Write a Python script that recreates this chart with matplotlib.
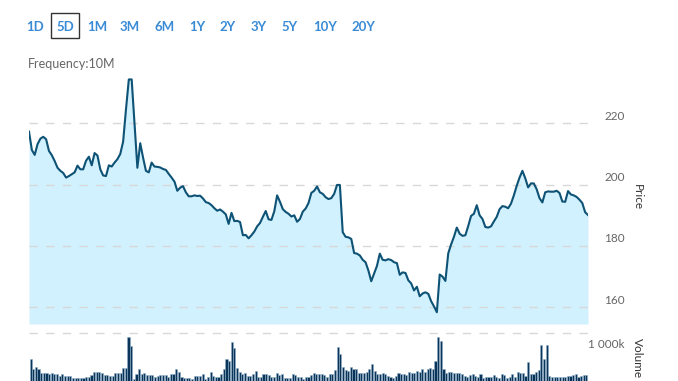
import numpy as np
import matplotlib

matplotlib.use('Agg')
import matplotlib.pyplot as plt
from matplotlib.transforms import ScaledTranslation

plt.rcParams['font.family'] = ['Lato', 'DejaVu Sans']

# range selector buttons and their centres (pixels)
buttons = ['1D', '5D', '1M', '3M', '6M', '1Y', '2Y', '3Y', '5Y', '10Y', '20Y']
button_x = [35, 65, 97, 130, 165, 197, 228, 259, 290, 325, 363]
selected = '5D'

# price, 10 minute bars over 5 days
price = [
    217.3, 211.3, 209.7, 213.2, 215.0, 215.6, 214.8, 211.0, 209.6, 207.7,
    205.5, 204.5, 203.8, 202.3, 202.8, 203.4, 204.0, 206.2, 205.0, 205.0,
    207.8, 209.1, 206.3, 210.3, 209.5, 205.0, 203.0, 202.8, 206.3, 205.9,
    207.2, 208.3, 210.0, 214.0, 224.5, 234.3, 234.3, 220.0, 205.5, 213.5,
    208.8, 204.5,
    204.0, 207.2, 205.9, 205.8, 205.6, 205.1, 204.8, 203.5, 202.3, 201.0,
    198.0, 199.0, 199.5, 197.5, 196.2, 196.2, 196.5, 196.3, 196.4, 195.5,
    194.3, 194.0, 193.3, 192.3, 191.5, 191.9, 191.2, 190.3, 187.2, 190.8,
    188.1, 188.2, 187.8, 183.5, 183.6, 182.5, 183.5, 184.7, 186.4, 187.5,
    189.5, 191.4, 188.7, 188.5, 191.3, 196.5, 194.4, 192.0, 191.1, 190.5,
    189.6, 190.0, 187.9, 188.8, 191.2, 192.2, 194.0, 197.3, 198.0, 199.4,
    197.5, 197.0, 195.9, 195.3, 195.6, 197.0, 199.9, 199.9, 184.5, 183.0,
    182.8, 182.3, 177.7, 177.5, 176.9, 175.5, 174.7, 172.0, 168.5, 171.0,
    173.5, 177.5, 175.5, 175.3, 175.7, 175.4, 174.7, 174.4, 170.6, 171.4,
    171.2, 168.8, 167.8, 165.5, 166.7, 163.6, 164.5, 164.9, 164.4, 162.0,
    160.3, 158.4, 170.7, 170.0, 168.6, 177.6, 180.5, 183.0, 186.0, 184.0,
    183.3, 183.5, 186.5, 189.8, 190.5, 193.3, 190.0, 188.8, 186.2, 186.0,
    186.4, 188.0, 189.5, 192.0, 193.0, 192.8, 192.3, 193.8, 196.5, 199.6,
    202.3, 204.5, 202.1, 199.1, 200.4, 200.4, 198.5, 195.6, 194.2, 197.5,
    197.8, 197.7, 197.7, 198.0, 197.3, 194.5, 194.4, 197.9, 196.8, 196.5,
    196.0, 195.1, 194.0, 191.0, 190.1,
]

# volume in thousands
volume = [
    586, 324, 370, 324, 208, 208, 208, 189, 224, 181, 181, 143, 181, 135, 135,
    135, 89, 89, 89, 73, 89, 116, 108, 170, 251, 251, 235, 208, 154, 154,
    135, 135, 208, 208, 224, 343, 343, 1180, 945, 46, 189, 324, 181, 224, 154,
    154, 154, 116, 143, 154, 154, 154, 116, 181, 181, 324, 243, 116, 89, 89,
    89, 46, 135, 135, 135, 181, 46, 116, 243, 135, 100, 100, 181, 316, 586,
    540, 1053, 883, 343, 251, 181, 208, 135, 135, 181, 262, 116, 116, 181, 181,
    154, 100, 100, 208, 154, 181, 89, 89, 89, 181, 154, 100, 100, 46, 116,
    116,
    154, 208, 189, 181, 181, 154, 116, 181, 181, 297, 910, 721, 370, 297, 270,
    370, 324, 324, 208, 208, 208, 243, 316, 459, 270, 181, 181, 224, 181, 135,
    116, 89, 135, 208, 181, 181, 154, 251, 208, 208, 278, 251, 324, 251, 316,
    343, 324, 540, 1180, 1080, 324, 224, 251, 251, 208, 208, 224, 181, 135, 116,
    154, 181, 135, 116, 181, 89, 100, 100, 116, 154, 100, 89, 181, 154, 89,
    116, 181, 116, 251, 208, 208, 135, 521, 181, 181, 251, 297, 972, 586, 972,
    135, 116, 116, 116, 100, 116, 116, 135, 135, 154, 181, 116, 135, 154, 154,
]

price_ticks = [160, 180, 200, 220]
vol_ticks = [1000]
vol_labels = ['1 000k']

W, H = 678, 381
fig = plt.figure(figsize=(W / 100, H / 100), dpi=100)

grey = '#666666'
grid_c = '#d8d8d8'

# price pane
ax = fig.add_axes([29 / W, 1 - 324 / H, 559 / W, 249 / H])
xp = np.linspace(0, 1, len(price))
ymin, ymax = 154.56, 235.75
ax.fill_between(xp, price, ymin, color='#d0f1fd', lw=0, zorder=1)
ax.plot(xp, price, color='#0e5275', lw=1.5, zorder=3, solid_joinstyle='round')
ax.set_xlim(0, 1)
ax.set_ylim(ymin, ymax)
for v in price_ticks:
    ax.axhline(v, color=grid_c, lw=1, dashes=(6, 6), zorder=2)
off = ScaledTranslation(37 / 100, 7 / 100, fig.dpi_scale_trans)
for v in price_ticks:
    ax.text(1.0, v, str(v), transform=ax.get_yaxis_transform() + off,
            ha='right', va='center', fontsize=8.5, color=grey)
ax.set_xticks([])
ax.set_yticks([])
for s in ax.spines.values():
    s.set_visible(False)
ax.patch.set_alpha(0)

# volume pane
axv = fig.add_axes([29 / W, 0, 559 / W, 48 / H])
xv = np.linspace(0, 1, len(volume))
axv.bar(xv, volume, width=0.8 / len(volume), color='#0b3558',
        edgecolor='#8fb0c8', linewidth=0.4)
axv.set_xlim(-0.6 / len(volume), 1 + 0.6 / len(volume))
axv.set_ylim(0, 1300)
axv.axhline(1300, color=grid_c, lw=1, dashes=(6, 6), clip_on=False)
offv = ScaledTranslation(37 / 100, 0, fig.dpi_scale_trans)
for v, lab in zip(vol_ticks, vol_labels):
    axv.text(1.0, v, lab, transform=axv.get_yaxis_transform() + offv,
             ha='right', va='center', fontsize=8.5, color=grey)
axv.set_xticks([])
axv.set_yticks([])
for s in axv.spines.values():
    s.set_visible(False)
axv.patch.set_alpha(0)

# axis titles
fig.text(637 / W, 1 - 197 / H, 'Price', rotation=-90, ha='center',
         va='center', fontsize=8.5, color='#333333')
fig.text(637 / W, 1 - 358 / H, 'Volume', rotation=-90, ha='center',
         va='center', fontsize=8.5, color='#333333')

# range selector
for b, bx in zip(buttons, button_x):
    fig.text(bx / W, 1 - 27 / H, b, ha='center', va='center', fontsize=9.5,
             color='#3a8bd6', fontweight='bold')
sx = button_x[buttons.index(selected)]
fig.patches.append(plt.Rectangle(((sx - 14) / W, 1 - 38 / H), 28 / W, 25 / H,
                                 transform=fig.transFigure, fill=False,
                                 edgecolor='#333333', lw=1))

fig.text(28 / W, 1 - 64 / H, 'Frequency:10M', ha='left', va='center',
         fontsize=9, color=grey)

fig.savefig('out.png', dpi=100)
